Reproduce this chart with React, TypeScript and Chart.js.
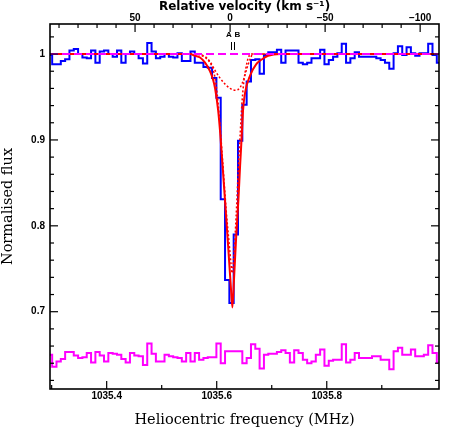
import React, { useEffect, useRef } from 'react';
import { Chart, registerables } from 'chart.js';

Chart.register(...registerables);

// ---- data -----------------------------------------------------------
// spectral channels: centre of first channel and channel width (MHz)
const CHANNEL_START = 1035.297;
const CHANNEL_WIDTH = 0.007855;

// observed normalised flux per channel (blue histogram)
const FLUX = [
  0.999, 0.988, 0.988, 0.992, 0.994, 1.004, 1.006, 1.000, 0.996, 0.995,
  1.004, 0.990, 1.003, 1.004, 1.000, 0.997, 1.004, 0.990, 1.000, 1.003,
  1.000, 0.995, 0.989, 1.013, 1.003, 0.995, 0.997, 1.000, 0.997, 0.996,
  1.001, 0.992, 0.992, 1.003, 0.990, 0.990, 0.985, 0.984, 0.972, 0.949,
  0.831, 0.737, 0.710, 0.790, 0.899, 0.941, 0.968, 0.993, 0.994, 0.977,
  0.999, 1.002, 1.002, 1.005, 0.990, 1.004, 1.004, 1.004, 0.990, 0.988,
  0.990, 0.995, 0.995, 1.005, 0.988, 0.993, 0.997, 1.001, 1.012, 0.990,
  0.995, 1.002, 0.997, 0.997, 0.997, 0.997, 0.995, 0.993, 0.990, 0.983,
  1.001, 1.009, 0.999, 1.008, 1.001, 0.998, 1.001, 1.001, 1.012, 0.999,
  0.990,
];

// residuals, offset (magenta histogram)
const RESIDUAL = [
  0.650, 0.636, 0.642, 0.645, 0.653, 0.653, 0.649, 0.646, 0.647, 0.652,
  0.641, 0.653, 0.649, 0.642, 0.652, 0.651, 0.650, 0.645, 0.641, 0.652,
  0.649, 0.648, 0.638, 0.663, 0.651, 0.642, 0.642, 0.650, 0.648, 0.647,
  0.646, 0.642, 0.652, 0.642, 0.652, 0.644, 0.646, 0.647, 0.647, 0.663,
  0.640, 0.654, 0.654, 0.654, 0.654, 0.640, 0.646, 0.662, 0.657, 0.634,
  0.650, 0.651, 0.651, 0.653, 0.655, 0.652, 0.641, 0.655, 0.652, 0.644,
  0.640, 0.642, 0.650, 0.656, 0.637, 0.643, 0.644, 0.644, 0.662, 0.641,
  0.644, 0.652, 0.646, 0.646, 0.646, 0.648, 0.648, 0.644, 0.644, 0.633,
  0.654, 0.658, 0.650, 0.650, 0.656, 0.648, 0.648, 0.650, 0.661, 0.652,
  0.641,
];

// total fit (solid red)
const FIT_FREQ = [
  1035.297, 1035.5515, 1035.5606, 1035.5697, 1035.5788, 1035.5879, 1035.5934,
  1035.597, 1035.6025, 1035.6061, 1035.6134, 1035.6206, 1035.6261, 1035.6285,
  1035.6316, 1035.6352, 1035.6394, 1035.6425, 1035.6461, 1035.6479, 1035.6516,
  1035.6606, 1035.6716, 1035.6825, 1035.6934, 1035.7152, 1036.004,
];
const FIT_FLUX = [
  1.0, 1.0, 0.998, 0.996, 0.990, 0.980, 0.970,
  0.960, 0.935, 0.910, 0.845, 0.778, 0.725, 0.705,
  0.740, 0.785, 0.830, 0.870, 0.912, 0.935, 0.955,
  0.975, 0.988, 0.994, 0.998, 1.0, 1.0,
];

// component A (dotted red)
const COMP_A_FREQ = [
  1035.297, 1035.5606, 1035.5788, 1035.5879, 1035.5934, 1035.597, 1035.6006,
  1035.6043, 1035.6097, 1035.617, 1035.6225, 1035.6261, 1035.6279, 1035.6306,
  1035.6352, 1035.6388, 1035.6425, 1035.6461, 1035.6497, 1035.6534, 1035.657,
  1035.6625, 1036.004,
];
const COMP_A_FLUX = [
  1.0, 1.0, 0.996, 0.990, 0.982, 0.972, 0.955,
  0.930, 0.885, 0.820, 0.780, 0.755, 0.745, 0.760,
  0.810, 0.860, 0.905, 0.945, 0.970, 0.985, 0.995,
  1.0, 1.0,
];

// component B (dotted red)
const COMP_B_FREQ = [
  1035.297, 1035.5606, 1035.5788, 1035.5879, 1035.597, 1035.6061, 1035.6152,
  1035.6243, 1035.6334, 1035.6425, 1035.6497, 1035.6552, 1035.6606, 1035.6661,
  1036.004,
];
const COMP_B_FLUX = [
  1.0, 1.0, 0.997, 0.991, 0.981, 0.972, 0.965,
  0.960, 0.958, 0.961, 0.972, 0.984, 0.994, 1.0,
  1.0,
];

const CONTINUUM = 1.0;

// component markers
const COMPONENT_LABELS = ['A', 'B'];
const COMPONENT_FREQ = [1035.6255, 1035.6321];

// axes
const X_MIN = 1035.297;
const X_MAX = 1036.004;
const Y_MIN = 0.61;
const Y_MAX = 1.035;
const REST_FREQ = 1035.6243;
const C_KMS = 299792.458;
const FREQ_TICKS = [1035.4, 1035.6, 1035.8];
const FREQ_MINOR = [1035.3, 1035.5, 1035.7, 1035.9];
const VEL_TICKS = [50, 0, -50, -100];
const FLUX_TICKS = [0.7, 0.8, 0.9, 1.0];

// ---- helpers ----------------------------------------------------------
const toVel = (f: number) => (C_KMS * (REST_FREQ - f)) / REST_FREQ;
const channelFreq = (i: number) => CHANNEL_START + i * CHANNEL_WIDTH;
const pts = (xs: number[], ys: number[]) => xs.map((x, i) => ({ x, y: ys[i] }));

const TICK_FONT = { family: 'Liberation Sans', weight: 'bold' as const, size: 10 };

const framePlugin = {
  id: 'pgFrame',
  afterDatasetsDraw(chart: any) {
    const { ctx, chartArea, scales } = chart;
    const { left, right, top, bottom } = chartArea;
    const sx = scales.x;
    const sv = scales.x2;
    const sy = scales.y;
    ctx.save();
    ctx.strokeStyle = '#000';
    ctx.lineWidth = 1.2;
    const line = (x1: number, y1: number, x2: number, y2: number) => {
      ctx.beginPath();
      ctx.moveTo(x1, y1);
      ctx.lineTo(x2, y2);
      ctx.stroke();
    };
    const MAJ = 8;
    const MIN = 4;
    // bottom frequency ticks
    FREQ_TICKS.forEach((f) => {
      const p = sx.getPixelForValue(f);
      line(p, bottom, p, bottom - MAJ);
    });
    FREQ_MINOR.forEach((f) => {
      const p = sx.getPixelForValue(f);
      if (p > left + 1 && p < right - 1) line(p, bottom, p, bottom - MIN);
    });
    // top velocity ticks
    for (let v = -110; v <= 90; v += 10) {
      const p = sv.getPixelForValue(v);
      if (p <= left + 1 || p >= right - 1) continue;
      const major = v % 50 === 0;
      line(p, top, p, top + (major ? MAJ : MIN));
    }
    // left/right flux ticks
    for (let k = 31; k <= 51; k++) {
      const v = k * 0.02;
      const p = sy.getPixelForValue(v);
      if (p <= top + 1 || p >= bottom - 1) continue;
      const major = k % 5 === 0;
      const len = major ? MAJ : MIN;
      line(left, p, left + len, p);
      line(right, p, right - len, p);
    }
    // frame
    ctx.lineWidth = 1.6;
    ctx.strokeRect(left, top, right - left, bottom - top);

    // component markers
    ctx.lineWidth = 1;
    ctx.fillStyle = '#000';
    ctx.font = 'bold 8px "Liberation Sans"';
    ctx.textAlign = 'center';
    ctx.textBaseline = 'middle';
    COMPONENT_FREQ.forEach((f, i) => {
      const p = Math.round(sx.getPixelForValue(f)) + 0.5;
      line(p, top + 18, p, top + 26);
      const off = i === 0 ? -2.5 : 3;
      ctx.fillText(COMPONENT_LABELS[i], p + off, top + 10.5);
    });
    ctx.restore();
  },
};

export default function App() {
  const canvasRef = useRef<HTMLCanvasElement | null>(null);

  useEffect(() => {
    const canvas = canvasRef.current;
    if (!canvas) return;
    const freqs = FLUX.map((_, i) => channelFreq(i));

    const chart = new Chart(canvas, {
      type: 'line',
      data: {
        datasets: [
          {
            label: 'continuum',
            data: [
              { x: X_MIN, y: CONTINUUM },
              { x: X_MAX, y: CONTINUUM },
            ],
            borderColor: '#ff00ff',
            borderWidth: 2,
            borderDash: [8, 4],
            pointRadius: 0,
            order: 0,
          },
          {
            label: 'A',
            data: pts(COMP_A_FREQ, COMP_A_FLUX),
            borderColor: '#ff0000',
            borderWidth: 1.5,
            borderDash: [2, 2],
            pointRadius: 0,
            cubicInterpolationMode: 'monotone',
            order: 1,
          },
          {
            label: 'B',
            data: pts(COMP_B_FREQ, COMP_B_FLUX),
            borderColor: '#ff0000',
            borderWidth: 1.5,
            borderDash: [2, 2],
            pointRadius: 0,
            cubicInterpolationMode: 'monotone',
            order: 2,
          },
          {
            label: 'fit',
            data: pts(FIT_FREQ, FIT_FLUX),
            borderColor: '#ff0000',
            borderWidth: 2,
            pointRadius: 0,
            cubicInterpolationMode: 'monotone',
            order: 3,
          },
          {
            label: 'flux',
            data: pts(freqs, FLUX),
            borderColor: '#0000ff',
            borderWidth: 2,
            pointRadius: 0,
            stepped: 'middle',
            order: 4,
          },
          {
            label: 'residual',
            data: pts(freqs, RESIDUAL),
            borderColor: '#ff00ff',
            borderWidth: 2,
            pointRadius: 0,
            stepped: 'middle',
            order: 5,
          },
        ] as any,
      },
      options: {
        animation: false,
        responsive: false,
        events: [],
        layout: { padding: { left: 0, right: 24, top: 0, bottom: 0 } },
        plugins: { legend: { display: false }, tooltip: { enabled: false } },
        scales: {
          x: {
            type: 'linear',
            position: 'bottom',
            min: X_MIN,
            max: X_MAX,
            grid: { display: false, drawTicks: false },
            border: { display: false },
            afterBuildTicks: (s: any) => {
              s.ticks = FREQ_TICKS.map((value) => ({ value }));
            },
            afterFit: (s: any) => {
              s.height = 47;
            },
            ticks: {
              color: '#000',
              font: TICK_FONT,
              padding: 1,
              maxRotation: 0,
              callback: (v: any) => Number(v).toFixed(1),
            },
            title: {
              display: true,
              text: 'Heliocentric frequency (MHz)',
              color: '#000',
              font: { family: 'DejaVu Serif', size: 14.5, lineHeight: 1.1 },
              padding: { top: 0, bottom: 8 },
            },
          },
          x2: {
            type: 'linear',
            position: 'top',
            reverse: true,
            min: toVel(X_MAX),
            max: toVel(X_MIN),
            grid: { display: false, drawTicks: false },
            border: { display: false },
            afterBuildTicks: (s: any) => {
              s.ticks = VEL_TICKS.map((value) => ({ value }));
            },
            afterFit: (s: any) => {
              s.height = 24;
            },
            ticks: {
              color: '#000',
              font: TICK_FONT,
              padding: 0,
              maxRotation: 0,
              callback: (v: any) => (Number(v) < 0 ? '\u2212' + Math.abs(Number(v)) : String(v)),
            },
            title: {
              display: true,
              text: 'Relative velocity (km s\u207B\u00B9)',
              color: '#000',
              font: { family: 'DejaVu Sans', weight: 'bold', size: 12, lineHeight: 1.1 },
              padding: { top: 0, bottom: 0 },
            },
          },
          y: {
            type: 'linear',
            position: 'left',
            min: Y_MIN,
            max: Y_MAX,
            grid: { display: false, drawTicks: false },
            border: { display: false },
            afterBuildTicks: (s: any) => {
              s.ticks = FLUX_TICKS.map((value) => ({ value }));
            },
            afterFit: (s: any) => {
              s.width = 50;
            },
            ticks: {
              color: '#000',
              font: TICK_FONT,
              padding: 5,
              callback: (v: any) => (Number(v) === 1 ? '1' : Number(v).toFixed(1)),
            },
            title: {
              display: true,
              text: 'Normalised flux',
              color: '#000',
              font: { family: 'DejaVu Serif', size: 14.5, lineHeight: 1.1 },
              padding: { top: 0, bottom: 0 },
            },
          },
        },
      } as any,
      plugins: [framePlugin],
    });
    return () => chart.destroy();
  }, []);

  return (
    <div style={{ position: 'absolute', left: 0, top: 0, width: 463, height: 436, background: '#fff' }}>
      <canvas ref={canvasRef} width={463} height={436} style={{ display: 'block' }} />
    </div>
  );
}
